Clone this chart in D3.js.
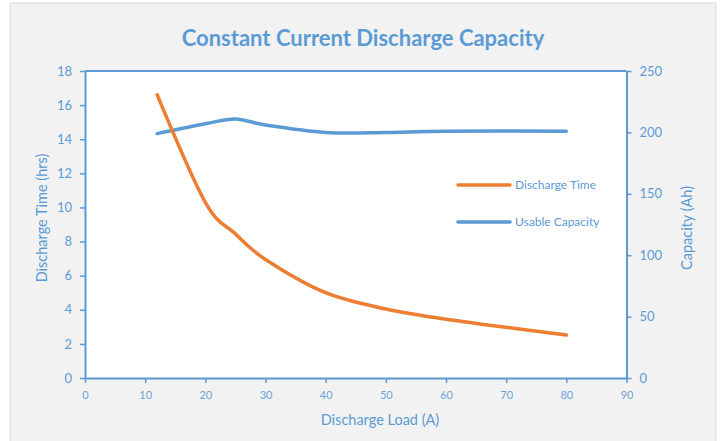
<!DOCTYPE html>
<html><head><meta charset="utf-8">
<script src="https://cdn.jsdelivr.net/npm/d3@7"></script>
<style>body{margin:0;background:#fff}svg{display:block}text{font-family:Lato,"Open Sans",sans-serif}</style>
</head><body><svg id="c" width="720" height="441"></svg>
<script>
const loads = [12, 20, 25, 30, 40, 50, 60, 80];
const dischargeTime = [16.6, 10.3, 8.45, 6.95, 5.0, 4.05, 3.45, 2.52];
const usableCapacity = [199, 207, 211, 206, 200, 200, 201, 201];
const xTicks = [0,10,20,30,40,50,60,70,80,90];
const yLeftTicks = [0,2,4,6,8,10,12,14,16,18];
const yRightTicks = [0,50,100,150,200,250];
const seriesNames = ["Discharge Time", "Usable Capacity"];

const blue = "#5b9bd5", orange = "#ed7d31", txt = "#5b9bd5";
const svg = d3.select("#c");
svg.append("rect").attr("x",10).attr("y",3).attr("width",706).attr("height",446)
  .attr("fill","#f2f2f2").attr("stroke","#d9d9d9").attr("stroke-width",1);

const L=85, R=626.5, T=71, B=378;
const x = d3.scaleLinear().domain([0,90]).range([L,R]);
const yL = d3.scaleLinear().domain([0,18]).range([B,T]);
const yR = d3.scaleLinear().domain([0,250]).range([B,T]);

svg.append("rect").attr("x",L).attr("y",T).attr("width",R-L).attr("height",B-T).attr("fill","#fff");

svg.append("text").attr("x",363).attr("y",46).attr("text-anchor","middle")
  .attr("font-size",22).attr("font-weight","bold").attr("fill",blue)
  .text("Constant Current Discharge Capacity");

function styleAxis(g){
  g.selectAll(".domain").attr("stroke",blue).attr("stroke-width",2);
  g.selectAll(".tick line").attr("stroke",blue).attr("stroke-width",1.5);
  g.selectAll(".tick text").attr("fill",txt).attr("font-family","Lato,'Open Sans',sans-serif");
}
const gx = svg.append("g").attr("transform",`translate(0,${B})`)
  .call(d3.axisBottom(x).tickValues(xTicks).tickSize(5).tickSizeOuter(0).tickPadding(8));
styleAxis(gx); gx.selectAll(".tick text").attr("font-size",11).attr("fill","#6fa3d9");
const gl = svg.append("g").attr("transform",`translate(${L},0)`)
  .call(d3.axisLeft(yL).tickValues(yLeftTicks).tickSize(5).tickSizeOuter(0).tickPadding(8));
styleAxis(gl); gl.selectAll(".tick text").attr("font-size",13);
const gr = svg.append("g").attr("transform",`translate(${R},0)`)
  .call(d3.axisRight(yR).tickValues(yRightTicks).tickSize(5).tickSizeOuter(0).tickPadding(8));
styleAxis(gr); gr.selectAll(".tick text").attr("font-size",13);
svg.append("line").attr("x1",L).attr("x2",R).attr("y1",T).attr("y2",T).attr("stroke",blue).attr("stroke-width",2);

svg.append("text").attr("transform","translate(47,218) rotate(-90)").attr("text-anchor","middle")
  .attr("font-size",14.5).attr("fill",txt).text("Discharge Time (hrs)");
svg.append("text").attr("transform","translate(692,228) rotate(-90)").attr("text-anchor","middle")
  .attr("font-size",14.5).attr("fill",txt).text("Capacity (Ah)");
svg.append("text").attr("x",380).attr("y",425).attr("text-anchor","middle")
  .attr("font-size",14.5).attr("fill",txt).text("Discharge Load (A)");

const curve = d3.curveCatmullRom.alpha(0);
const lineL = d3.line().x((d,i)=>x(loads[i])).y(d=>yL(d)).curve(curve);
const lineR = d3.line().x((d,i)=>x(loads[i])).y(d=>yR(d)).curve(curve);
svg.append("path").attr("d",lineR(usableCapacity)).attr("fill","none").attr("stroke",blue).attr("stroke-width",3.5).attr("stroke-linecap","round");
svg.append("path").attr("d",lineL(dischargeTime)).attr("fill","none").attr("stroke",orange).attr("stroke-width",3.5).attr("stroke-linecap","round");

const leg = [{n:seriesNames[0],c:orange,y:185},{n:seriesNames[1],c:blue,y:222}];
leg.forEach(l=>{
  svg.append("line").attr("x1",458).attr("x2",510).attr("y1",l.y).attr("y2",l.y)
    .attr("stroke",l.c).attr("stroke-width",3.5).attr("stroke-linecap","round");
  svg.append("text").attr("x",515).attr("y",l.y+4).attr("font-size",12).attr("fill",txt).text(l.n);
});
</script></body></html>
